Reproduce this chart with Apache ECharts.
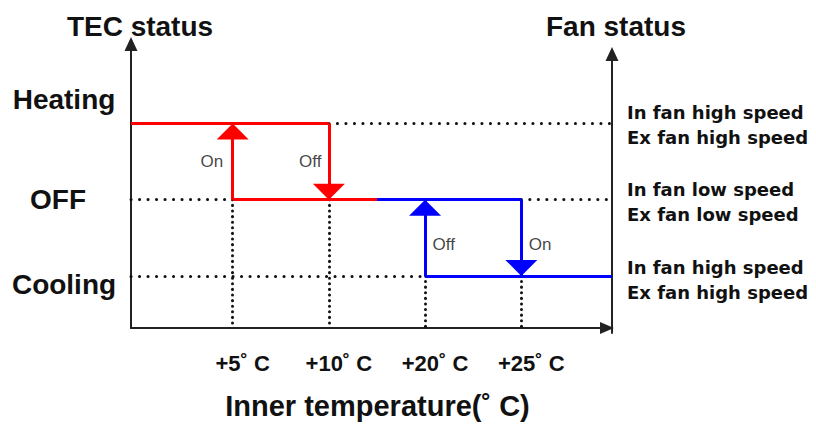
<!DOCTYPE html>
<html>
<head>
<meta charset="utf-8">
<script src="https://cdn.jsdelivr.net/npm/echarts@6/dist/echarts.min.js"></script>
<style>
html,body{margin:0;padding:0;background:#fff;}
#chart{width:816px;height:425px;}
</style>
</head>
<body>
<div id="chart"></div>
<script>
// ---------- data (temperatures in °C, TEC levels 0=Cooling,1=OFF,2=Heating) ----------
const tecStates = ['Cooling', 'OFF', 'Heating'];
const fanStates = ['In fan high speed\nEx fan high speed',
                   'In fan low speed\nEx fan low speed',
                   'In fan high speed\nEx fan high speed'];
const thresholdTemps = [5, 10, 20, 25];
const tickLabels = ['+5˚ C', '+10˚ C', '+20˚ C', '+25˚ C'];
const modeSplit = 15;   // heating branch (red) below, cooling branch (blue) above

// state plateaus (open ends run to the axis edges)
const stateStart = [-Infinity, 5, 15, 20];
const stateEnd   = [10, 15, 25, Infinity];
const stateLevel = [2, 1, 1, 0];

// switching transitions
const switchTemp = [5, 10, 20, 25];
const switchFrom = [1, 2, 0, 1];
const switchTo   = [2, 1, 1, 0];
const switchText = ['On', 'Off', 'Off', 'On'];

// dotted horizontal guide lines
const guideStart = [10, -Infinity, 25, -Infinity];
const guideEnd   = [Infinity, 5, Infinity, 20];
const guideLevel = [2, 1, 1, 0];

// ---------- axis ranges (layout) ----------
// The temperature axis is schematic (not to scale): thresholds sit at equal ordinal steps.
const X_MIN = -0.057, X_MAX = 4.943;
const Y_MIN = -0.684, Y_MAX = 3.045, Y1_MAX = 2.916;

function stageOf(t) {
  if (t === -Infinity) return X_MIN;
  if (t === Infinity) return X_MAX;
  const T = thresholdTemps;
  for (let i = 0; i < T.length - 1; i++) {
    if (t >= T[i] && t <= T[i + 1]) return i + 1 + (t - T[i]) / (T[i + 1] - T[i]);
  }
  return t < T[0] ? 1 : T.length;
}
const tickStages = thresholdTemps.map(stageOf);

// ---------- styles ----------
const RED = '#ff0000', BLUE = '#0000ff', INK = '#111111', AXIS = '#222222';
const ARIAL = '"Liberation Sans", Arial, sans-serif';
const TAHOMA = '"DejaVu Sans", Verdana, sans-serif';
const ARROW = 'path://M7,0M7,16L14,32L0,32Z';   // tip at symbol centre

const isHeat = t => t < modeSplit;

function plateaus(heat) {
  const out = [];
  stateStart.forEach((s, i) => {
    if (isHeat(s) === heat) out.push({coords: [[stageOf(s), stateLevel[i]], [stageOf(stateEnd[i]), stateLevel[i]]]});
  });
  return out;
}
function transitions(heat) {
  const out = [];
  switchTemp.forEach((t, i) => {
    if (isHeat(t) === heat) out.push({coords: [[stageOf(t), switchFrom[i]], [stageOf(t), switchTo[i]]]});
  });
  return out;
}
const guidesH = guideStart.map((s, i) => ({coords: [[stageOf(s), guideLevel[i]], [stageOf(guideEnd[i]), guideLevel[i]]]}));
const guidesV = switchTemp.map((t, i) => ({coords: [[stageOf(t), Math.min(switchFrom[i], switchTo[i])], [stageOf(t), Y_MIN]]}));
const notes = switchTemp.map((t, i) => {
  const heat = isHeat(t);
  return {
    value: [stageOf(t), (switchFrom[i] + switchTo[i]) / 2],
    label: heat ? {position: 'left', distance: i === 0 ? 9 : 7}
                : {position: 'right', distance: 7, offset: [0, 7]}
  };
});

const chart = echarts.init(document.getElementById('chart'), null, {renderer: 'svg'});

const option = {
  animation: false,
  backgroundColor: '#ffffff',
  grid: [
    {left: 131, right: 204, top: 44, bottom: 92},
    {left: 131, right: 204, top: 54, bottom: 92}
  ],
  xAxis: [
    {
      gridIndex: 0, type: 'value', min: X_MIN, max: X_MAX,
      axisLine: {show: true, onZero: false, lineStyle: {color: AXIS, width: 2},
                 symbol: ['none', 'triangle'], symbolSize: [12, 14], symbolOffset: [0, -5]},
      axisTick: {show: false}, splitLine: {show: false},
      axisLabel: {
        customValues: tickStages, margin: 24,
        formatter: v => '{t|' + tickLabels[tickStages.findIndex(s => Math.abs(s - v) < 1e-6)] + '}',
        rich: {t: {fontFamily: ARIAL, fontSize: 22, fontWeight: 'bold', color: INK, padding: [0, 0, 0, 20]}}
      },
      name: 'Inner temperature(˚ C)', nameLocation: 'middle', nameGap: 63,
      nameTextStyle: {fontFamily: ARIAL, fontSize: 29, fontWeight: 'bold', color: INK, padding: [0, 0, 0, 12]}
    },
    {gridIndex: 1, type: 'value', min: X_MIN, max: X_MAX, show: false}
  ],
  yAxis: [
    {
      gridIndex: 0, type: 'value', min: Y_MIN, max: Y_MAX,
      axisLine: {show: true, onZero: false, lineStyle: {color: AXIS, width: 2},
                 symbol: ['none', 'triangle'], symbolSize: [13, 14]},
      axisTick: {show: false}, splitLine: {show: false},
      axisLabel: {
        customValues: [0, 1, 2], align: 'center', margin: 67,
        formatter: v => '{l' + v + '|' + tecStates[v] + '}',
        rich: {
          l0: {fontFamily: ARIAL, fontSize: 28, fontWeight: 'bold', color: INK, padding: [18, 0, 0, 0]},
          l1: {fontFamily: ARIAL, fontSize: 28, fontWeight: 'bold', color: INK, padding: [0, 12, 0, 0]},
          l2: {fontFamily: ARIAL, fontSize: 28, fontWeight: 'bold', color: INK, padding: [0, 0, 48, 0]}
        }
      }
    },
    {
      gridIndex: 1, type: 'value', position: 'right', min: Y_MIN, max: Y1_MAX,
      axisLine: {show: true, onZero: false, lineStyle: {color: AXIS, width: 2},
                 symbol: ['none', 'triangle'], symbolSize: [13, 14]},
      axisTick: {show: false}, splitLine: {show: false},
      axisLabel: {
        customValues: [0, 1, 2], margin: 15, align: 'left',
        formatter: v => fanStates[v],
        fontFamily: TAHOMA, fontSize: 18, fontWeight: 'bold', color: INK, lineHeight: 25
      }
    }
  ],
  graphic: [
    {type: 'text', x: 140, y: 26, z: 10,
     style: {text: 'TEC status', fontFamily: ARIAL, fontSize: 28, fontWeight: 'bold', fill: INK,
             align: 'center', verticalAlign: 'middle', textAlign: 'center', textVerticalAlign: 'middle'}},
    {type: 'text', x: 616, y: 26, z: 10,
     style: {text: 'Fan status', fontFamily: ARIAL, fontSize: 28, fontWeight: 'bold', fill: INK,
             align: 'center', verticalAlign: 'middle', textAlign: 'center', textVerticalAlign: 'middle'}}
  ],
  series: [
    {type: 'lines', coordinateSystem: 'cartesian2d', xAxisIndex: 0, yAxisIndex: 0, z: 2, silent: true,
     lineStyle: {color: INK, width: 3, type: [0.1, 8.4], cap: 'round', opacity: 1}, data: guidesH},
    {type: 'lines', coordinateSystem: 'cartesian2d', xAxisIndex: 0, yAxisIndex: 0, z: 2, silent: true,
     lineStyle: {color: INK, width: 3, type: [0.1, 5.5], cap: 'round', opacity: 1}, data: guidesV},
    {type: 'lines', coordinateSystem: 'cartesian2d', z: 3, silent: true,
     lineStyle: {color: RED, width: 3, opacity: 1}, data: plateaus(true)},
    {type: 'lines', coordinateSystem: 'cartesian2d', z: 3, silent: true,
     lineStyle: {color: BLUE, width: 3, opacity: 1}, data: plateaus(false)},
    {type: 'lines', coordinateSystem: 'cartesian2d', z: 4, silent: true,
     symbol: ['none', ARROW], symbolSize: [14, 32],
     lineStyle: {color: RED, width: 3, opacity: 1}, data: transitions(true)},
    {type: 'lines', coordinateSystem: 'cartesian2d', z: 4, silent: true,
     symbol: ['none', ARROW], symbolSize: [14, 32],
     lineStyle: {color: BLUE, width: 3, opacity: 1}, data: transitions(false)},
    {type: 'scatter', xAxisIndex: 0, yAxisIndex: 0, z: 5, silent: true,
     symbol: 'circle', symbolSize: 1, itemStyle: {color: 'rgba(0,0,0,0)'},
     label: {show: true, formatter: p => switchText[p.dataIndex],
             fontFamily: ARIAL, fontSize: 17, color: '#111111'},
     data: notes}
  ]
};
chart.setOption(option);
</script>
</body>
</html>
